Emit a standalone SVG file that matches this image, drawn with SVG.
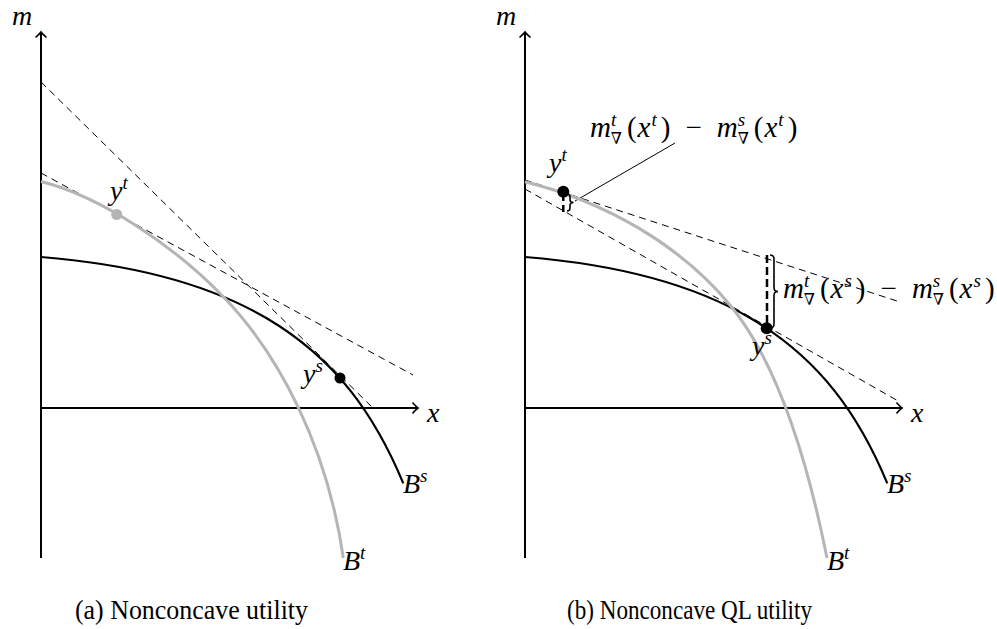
<svg xmlns="http://www.w3.org/2000/svg" width="997" height="629" viewBox="0 0 997 629">
<style>
.ax{fill:none;stroke:#000;stroke-width:2;marker-end:url(#arr)}
.dash{fill:none;stroke:#000;stroke-width:1;stroke-dasharray:7 5}
.bs{fill:none;stroke:#000;stroke-width:2.2}
.bt{fill:none;stroke:#b5b5b5;stroke-width:3}
.vd{fill:none;stroke:#000;stroke-width:2.5;stroke-dasharray:8 4}
.br{fill:none;stroke:#000;stroke-width:1.6}
.pin{fill:none;stroke:#000;stroke-width:1}
text{font-family:'Liberation Serif','DejaVu Serif',serif;fill:#000}
.mi{font-size:28px;font-style:italic}
.lab{font-size:29px;font-style:italic}
.sup{font-size:19px;font-style:italic}
.sub{font-size:16px;font-style:normal;font-family:'DejaVu Serif','Liberation Serif',serif}
.up{font-style:normal}
.cap{font-size:27px;text-anchor:middle}
</style>
<defs>
<marker id="arr" viewBox="-8 -7 10 14" refX="0" refY="0" markerWidth="10" markerHeight="14" markerUnits="userSpaceOnUse" orient="auto">
<path d="M-5.5,-5.5 Q-1.5,-1 0,0 Q-1.5,1 -5.5,5.5" fill="none" stroke="#000" stroke-width="1.6"/>
</marker>
<path id="curveS" d="M41,257 C131,264.2 206.7,282.9 266.7,318.3 C336.7,359.6 375.3,416.1 403.3,483.3"/>
</defs>
<rect width="997" height="629" fill="#fff"/>

<g id="panel-a">
  <g id="a-axes">
    <line class="ax" x1="41" y1="558" x2="41" y2="32"/>
    <line class="ax" x1="41" y1="408" x2="418" y2="408"/>
    <text class="mi" x="12" y="25">m</text>
    <text class="mi" x="427" y="422">x</text>
  </g>
  <g id="a-connectors">
    <line class="dash" x1="41" y1="82" x2="373" y2="408"/>
    <line class="dash" x1="41" y1="173" x2="413" y2="375"/>
  </g>
  <g id="a-Bs">
    <use href="#curveS" class="bs"/>
    <text class="mi" x="403" y="493">B<tspan class="sup" dy="-11">s</tspan></text>
  </g>
  <g id="a-Bt">
    <path class="bt" d="M41,181.5 C101,196.5 173.3,245.2 223.3,296.7 C278.3,353.4 327.3,446 343.3,558"/>
    <text class="mi" x="343" y="570">B<tspan class="sup" dy="-11">t</tspan></text>
  </g>
  <g id="a-yt">
    <circle cx="116.7" cy="214.5" r="5.5" fill="#b5b5b5"/>
    <text class="mi" x="110" y="200">y<tspan class="sup" dy="-11">t</tspan></text>
  </g>
  <g id="a-ys">
    <circle cx="340" cy="378" r="5.5" fill="#000"/>
    <text class="mi" x="303" y="383">y<tspan class="sup" dy="-11">s</tspan></text>
  </g>
  <text class="cap" x="191.5" y="619" textLength="233" lengthAdjust="spacingAndGlyphs">(a) Nonconcave utility</text>
</g>

<g id="panel-b">
  <g id="b-axes">
    <line class="ax" x1="525" y1="558" x2="525" y2="32"/>
    <line class="ax" x1="525" y1="408" x2="902" y2="408"/>
    <text class="mi" x="496" y="25">m</text>
    <text class="mi" x="911" y="422">x</text>
  </g>
  <g id="b-connectors">
    <line class="dash" x1="525" y1="180" x2="900" y2="302"/>
    <line class="dash" x1="525" y1="189" x2="900" y2="402"/>
    <line class="vd" x1="563.3" y1="193" x2="563.3" y2="212"/>
    <line class="vd" x1="767" y1="255" x2="767" y2="328"/>
    <line class="pin" x1="575" y1="201" x2="675" y2="143"/>
  </g>
  <g id="b-Bs">
    <use href="#curveS" class="bs" transform="translate(484,0)"/>
    <text class="mi" x="887" y="493">B<tspan class="sup" dy="-11">s</tspan></text>
  </g>
  <g id="b-Bt">
    <path class="bt" d="M525,181.7 C605,201.7 680,244.5 730,305 C770,353.4 802,433 827,558"/>
    <text class="mi" x="827" y="570">B<tspan class="sup" dy="-11">t</tspan></text>
  </g>
  <g id="b-yt">
    <circle cx="563.3" cy="191.7" r="6" fill="#000"/>
    <text class="mi" x="549" y="172">y<tspan class="sup" dy="-11">t</tspan></text>
  </g>
  <g id="b-ys">
    <circle cx="766.7" cy="328.3" r="6" fill="#000"/>
    <text class="mi" x="752" y="355">y<tspan class="sup" dy="-11">s</tspan></text>
  </g>
  <g id="b-gap-t">
    <path class="br" d="M567,194 Q570,194 570,197 L570,199.5 Q570,202.5 573.5,202.5 Q570,202.5 570,205.5 L570,208 Q570,211 567,211"/>
    <text class="lab" x="590" y="137">m<tspan class="sup" dy="-11">t</tspan><tspan class="sub" dx="-5.5" dy="18">∇</tspan><tspan class="up" dx="5" dy="-7">(</tspan><tspan dx="1">x</tspan><tspan class="sup" dx="1" dy="-11">t</tspan><tspan class="up" dx="4" dy="11">)</tspan><tspan class="up" dx="15">−</tspan><tspan dx="15">m</tspan><tspan class="sup" dy="-11">s</tspan><tspan class="sub" dx="-7.5" dy="18">∇</tspan><tspan class="up" dx="5" dy="-7">(</tspan><tspan dx="1">x</tspan><tspan class="sup" dx="1" dy="-11">t</tspan><tspan class="up" dx="4" dy="11">)</tspan></text>
  </g>
  <g id="b-gap-s">
    <path class="br" d="M770,255 Q774,255 774,259 L774,287.5 Q774,291.5 778,291.5 Q774,291.5 774,295.5 L774,324 Q774,328 770,328"/>
    <text class="lab" x="783" y="298">m<tspan class="sup" dy="-11">t</tspan><tspan class="sub" dx="-5.5" dy="18">∇</tspan><tspan class="up" dx="5" dy="-7">(</tspan><tspan dx="1">x</tspan><tspan class="sup" dx="1" dy="-11">s</tspan><tspan class="up" dx="4" dy="11">)</tspan><tspan class="up" dx="15">−</tspan><tspan dx="15">m</tspan><tspan class="sup" dy="-11">s</tspan><tspan class="sub" dx="-7.5" dy="18">∇</tspan><tspan class="up" dx="5" dy="-7">(</tspan><tspan dx="1">x</tspan><tspan class="sup" dx="1" dy="-11">s</tspan><tspan class="up" dx="4" dy="11">)</tspan></text>
  </g>
  <text class="cap" x="689.5" y="619" textLength="245" lengthAdjust="spacingAndGlyphs">(b) Nonconcave QL utility</text>
</g>
</svg>
